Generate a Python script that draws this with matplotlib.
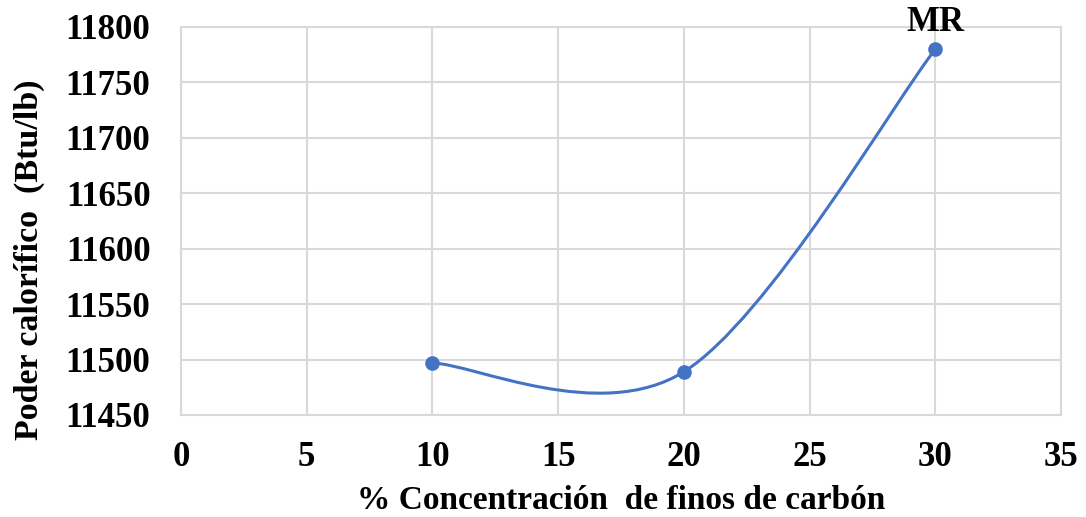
import matplotlib
matplotlib.use("Agg")
import matplotlib.pyplot as plt
from matplotlib.path import Path
from matplotlib.patches import PathPatch
import numpy as np

# data
concentracion = [10, 20, 30]
poder_calorifico = [11497, 11489, 11780]
etiqueta = "MR"

plt.rcParams['font.family'] = ['Liberation Serif', 'DejaVu Serif']
plt.rcParams['font.weight'] = 'bold'

azul = '#4472C4'
gris = '#d9d9d9'

fig = plt.figure(figsize=(10.86, 5.17), dpi=100)
ax = fig.add_axes([0.1667, 0.1973, 0.8103, 0.7505])

# Excel-style smoothed line (cubic Bezier, tension 1/6)
pts = np.column_stack([concentracion, poder_calorifico]).astype(float)
verts = [tuple(pts[0])]
codes = [Path.MOVETO]
n = len(pts)
for i in range(n - 1):
    p0 = pts[max(i - 1, 0)]
    p1 = pts[i]
    p2 = pts[i + 1]
    p3 = pts[min(i + 2, n - 1)]
    c1 = p1 + (p2 - p0) / 6
    c2 = p2 - (p3 - p1) / 6
    verts += [tuple(c1), tuple(c2), tuple(p2)]
    codes += [Path.CURVE4] * 3
ax.add_patch(PathPatch(Path(verts, codes), facecolor='none', edgecolor=azul,
                       lw=2.2, zorder=3, capstyle='round'))
ax.plot(concentracion, poder_calorifico, 'o', color=azul, markersize=9.5, zorder=4)

ax.annotate(etiqueta, (concentracion[-1], poder_calorifico[-1]), xytext=(0, 7),
            textcoords='offset points', ha='center', va='bottom',
            fontsize=25, fontweight='bold', annotation_clip=False)

ax.set_xlim(0, 35)
ax.set_ylim(11450, 11800)
ax.set_xticks(range(0, 36, 5))
ax.set_yticks(range(11450, 11801, 50))
ax.grid(True, color=gris, lw=1.5)
ax.set_axisbelow(True)
for s in ax.spines.values():
    s.set_color(gris)
    s.set_linewidth(1.5)
ax.tick_params(length=0, labelsize=25)
ax.tick_params(axis='x', pad=19)
ax.tick_params(axis='y', pad=22)

ax.set_xlabel('% Concentración  de finos de carbón', fontsize=24, fontweight='bold', labelpad=8)
ax.set_ylabel('Poder calorífico  (Btu/lb)', fontsize=24.5, fontweight='bold')
ax.yaxis.set_label_coords(-0.155, 0.40)

fig.savefig('out.png', dpi=100)
